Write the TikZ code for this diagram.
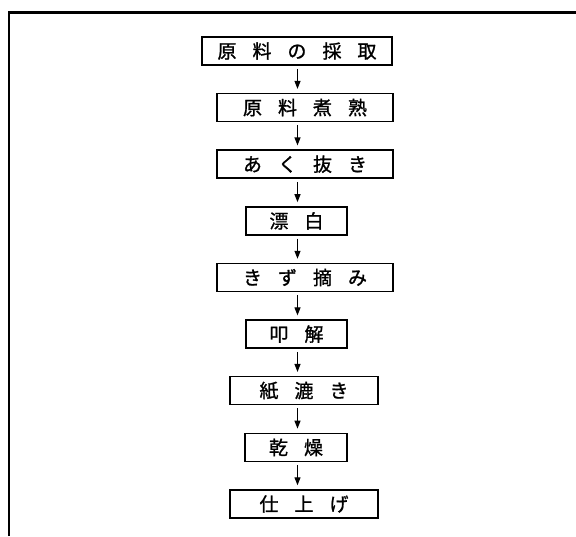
\documentclass[tikz,border=0pt]{standalone}
\usepackage{fontspec}
\newfontfamily\jp[FakeBold=1.2]{Noto Sans CJK JP}
\usetikzlibrary{arrows.meta}
\newcommand\jg{\hspace{16pt}}
\begin{document}
\begin{tikzpicture}[x=1pt,y=-1pt,
  stepbox/.style={draw,line width=1.5pt,minimum height=28pt,inner sep=0pt,
    font=\jp\fontsize{19}{19}\selectfont},
  flow/.style={line width=1.1pt,-{Triangle[length=8pt,width=6pt]},
    shorten <=3pt,shorten >=4pt}]
\useasboundingbox (0,0) rectangle (576,536);
\draw[line width=2.4pt] (9,536) -- (9,12.5) -- (576,12.5);
\coordinate (ax) at (297.5,0);
\node[stepbox,minimum width=190pt] (n1) at (297,51)    {原\jg 料\jg の\jg 採\jg 取};
\node[stepbox,minimum width=176pt] (n2) at (305,107.6) {原\jg 料\jg 煮\jg 熟};
\node[stepbox,minimum width=176pt] (n3) at (305,164.2) {あ\jg く\jg 抜\jg き};
\node[stepbox,minimum width=101pt] (n4) at (296.5,220.9) {漂\jg 白};
\node[stepbox,minimum width=176pt] (n5) at (305,277.5) {き\jg ず\jg 摘\jg み};
\node[stepbox,minimum width=101pt] (n6) at (296.5,334.1) {叩\jg 解};
\node[stepbox,minimum width=148pt] (n7) at (304,390.7) {紙\jg 漉\jg き};
\node[stepbox,minimum width=102pt] (n8) at (296,447.4) {乾\jg 燥};
\node[stepbox,minimum width=148pt] (n9) at (304,504)   {仕\jg 上\jg げ};
\foreach \a/\b in {n1/n2,n2/n3,n3/n4,n4/n5,n5/n6,n6/n7,n7/n8,n8/n9}
  \draw[flow] (\a.south -| ax) -- (\b.north -| ax);
\end{tikzpicture}
\end{document}
